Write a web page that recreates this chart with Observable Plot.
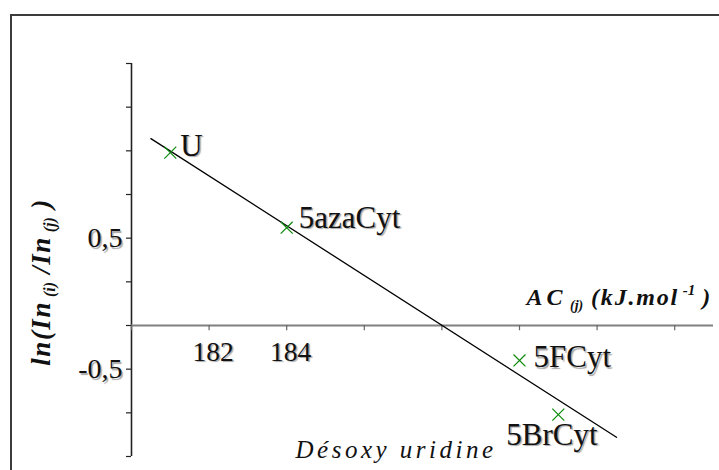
<!DOCTYPE html>
<html><head><meta charset="utf-8">
<script src="https://cdn.jsdelivr.net/npm/d3@7"></script>
<script src="https://cdn.jsdelivr.net/npm/@observablehq/plot@0.6"></script>
<style>
body{margin:0;background:#fff;}
#wrap{position:relative;width:719px;height:470px;overflow:hidden;background:#fff;}
#border{position:absolute;left:10px;top:14px;width:720px;height:470px;border-top:2px solid #3c3c3c;border-left:2px solid #3c3c3c;}
#chart{position:absolute;left:0;top:0;}
#chart svg text, #chart svg tspan{font-family:"Liberation Serif","Times New Roman",serif !important;}
svg text.shadow{text-shadow:1.5px 1.5px 1px rgba(0,0,0,0.35);}
</style></head><body>
<div id="wrap"><div id="border"></div><div id="chart"></div></div>
<script>
// ---- data ----
const compounds = ["U", "5azaCyt", "5FCyt", "5BrCyt"];
const acValues = [181.0, 184.0, 190.0, 191.0];
const lnRatio = [0.99, 0.56, -0.20, -0.51];
const fitX = [180.5, 192.5];
const fitY = [1.07, -0.64];
const xTickValues = [180, 182, 184, 186, 188, 190, 192, 194];
const xLabelValues = [182, 184];
const xLabelTexts = ["182", "184"];
const yTickValues = [-0.75, -0.5, -0.25, 0, 0.25, 0.5, 0.75, 1, 1.25, 1.5];
const yLabelValues = [0.5, -0.25];
const yLabelTexts = ["0,5", "-0,5"];
const xTitle = "AC (j) (kJ.mol-1 )";
const yTitle = "ln(In (i) /In (j) )";
const note = "Désoxy uridine";

const points = compounds.map((c, i) => ({name: c, x: acValues[i], y: lnRatio[i]}));
const fit = fitX.map((x, i) => ({x, y: fitY[i]}));
const serif = "Liberation Serif";

const lbl = (name, dx, dy) => Plot.text(points.filter(d => d.name === name), {
  x: "x", y: "y", text: "name", dx, dy, textAnchor: "start", lineAnchor: "bottom",
  fontSize: 31, fontFamily: serif, fill: "#111"
});

const chart = Plot.plot({
  width: 719, height: 470,
  marginLeft: 131, marginRight: 6, marginTop: 63, marginBottom: 14,
  style: {fontFamily: serif},
  x: {domain: [180, 195], axis: null},
  y: {domain: [-0.75, 1.5], axis: null},
  marks: [
    Plot.axisY({ticks: yTickValues, tickSize: 5, tickFormat: () => "", stroke: "#222", strokeWidth: 1.2, label: null}),
    Plot.ruleX([180], {y1: -0.75, y2: 1.5, stroke: "#222", strokeWidth: 1.6}),
    Plot.ruleY([0], {x1: 180, x2: 195, stroke: "#808080", strokeWidth: 2.2}),
    Plot.ruleX(xTickValues, {x: d => d, y1: 0, y2: -0.03, stroke: "#666", strokeWidth: 1.2}),
    Plot.text(xLabelValues, {x: d => d, y: 0, text: (d, i) => xLabelTexts[i], dx: 4, dy: 35,
      lineAnchor: "bottom", fontSize: 27.5, fontFamily: serif, fill: "#111"}),
    Plot.text(yLabelValues, {x: 180, y: d => d, text: (d, i) => yLabelTexts[i], dx: -9,
      textAnchor: "end", fontSize: 28, fontFamily: serif, fill: "#111"}),
    Plot.line(fit, {x: "x", y: "y", stroke: "#000", strokeWidth: 1.3}),
    Plot.dot(points, {x: "x", y: "y", symbol: "times", r: 5.5, stroke: "#0a8a0a", strokeWidth: 1.2}),
    lbl("U", 10, 3),
    lbl("5azaCyt", 12, 0),
    lbl("5FCyt", 14, 7),
    lbl("5BrCyt", -52, 30),
    Plot.text([xTitle], {x: 180, y: 0, dx: 395, dy: -21, textAnchor: "start", lineAnchor: "bottom",
      fontSize: 24, fontWeight: "bold", fontStyle: "italic", fontFamily: serif, fill: "#111"}),
    Plot.text([yTitle], {frameAnchor: "left", dx: -90, dy: 22, rotate: -90, textAnchor: "middle",
      fontSize: 27, fontWeight: "bold", fontStyle: "italic", fontFamily: serif, fill: "#111"}),
    Plot.text([note], {frameAnchor: "bottom-left", dx: 164, dy: 1, textAnchor: "start", lineAnchor: "bottom",
      fontSize: 25, fontStyle: "italic", fontFamily: serif, fill: "#111"})
  ]
});
document.getElementById("chart").appendChild(chart);

const svgNS = "http://www.w3.org/2000/svg";
function rich(node, parts) {
  node.textContent = "";
  let prev = 0;
  for (const p of parts) {
    const ts = document.createElementNS(svgNS, "tspan");
    const shift = p.shift || 0;
    ts.setAttribute("dy", shift - prev);
    prev = shift;
    if (p.size) ts.setAttribute("font-size", p.size);
    if (p.ls != null) ts.setAttribute("letter-spacing", p.ls);
    ts.textContent = p.t;
    node.appendChild(ts);
  }
}
d3.select(chart).selectAll("text").each(function() {
  const t = this.textContent;
  if (t === xTitle) {
    rich(this, [{t: "AC", ls: 4}, {t: " (j)", size: 14, shift: 5, ls: 0}, {t: " (kJ.mol", ls: 1.8},
      {t: " -1", size: 15, shift: -10, ls: 0}, {t: " )", ls: 1}]);
  } else if (t === yTitle) {
    rich(this, [{t: "ln(In", ls: 1.5}, {t: " (i)", size: 16, shift: 5, ls: 0}, {t: " /In", ls: 1.5},
      {t: " (j)", size: 16, shift: 5, ls: 0}, {t: " )", ls: 1.5}]);
  } else if (t === note) {
    this.setAttribute("letter-spacing", 3.5);
  } else if (compounds.includes(t) || xLabelTexts.includes(t) || yLabelTexts.includes(t)) {
    this.setAttribute("class", "shadow");
  }
});
</script>
</body></html>
